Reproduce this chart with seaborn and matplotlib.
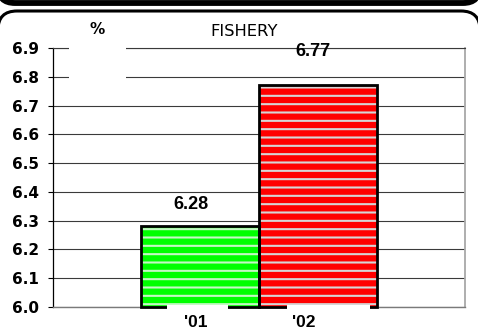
import matplotlib
matplotlib.use("Agg")
import matplotlib.pyplot as plt
from matplotlib.patches import PathPatch, Rectangle
from matplotlib.path import Path
import pandas as pd
import seaborn as sns

# ---- data -------------------------------------------------------------
years = ["'01", "'02"]
shares = [6.28, 6.77]
y_ticks = [6.0, 6.1, 6.2, 6.3, 6.4, 6.5, 6.6, 6.7, 6.8, 6.9]
y_tick_labels = ["6.0", "6.1", "6.2", "6.3", "6.4", "6.5", "6.6", "6.7", "6.8", "6.9"]
chart_title = "FISHERY"
unit_label = "%"

# ---- style --------------------------------------------------------------
fill_colors = ["#00ff00", "#ff0000"]
stripe_colors = ["#c6f7c6", "#d6d6d6"]
grid_color = "#3a3a3a"
W, H = 478, 333

sns.set_theme(style="white")
plt.rcParams["font.family"] = ["DejaVu Sans"]
plt.rcParams["hatch.linewidth"] = 1.5
for key in ["text.color", "axes.labelcolor", "xtick.color", "ytick.color"]:
    plt.rcParams[key] = "black"

fig = plt.figure(figsize=(W / 100, H / 100), dpi=100)
fig.patch.set_facecolor("white")


def px_box(x0, y0, x1, y1):
    """Figure-fraction rect from pixel edges measured from the top-left."""
    return [x0 / W, 1 - y1 / H, (x1 - x0) / W, (y1 - y0) / H]


def frame_edge(y, left_end, right_end, r):
    """Open path: a horizontal edge at pixel row y whose ends bend away
    (towards left_end / right_end rows) with rounded corners of radius r."""
    pts = [(-2, left_end), (-2, y), (-2 + r, y),
           (W + 2 - r, y), (W + 2, y), (W + 2, right_end)]
    codes = [Path.MOVETO, Path.CURVE3, Path.CURVE3,
             Path.LINETO, Path.CURVE3, Path.CURVE3]
    return Path([(x / W, 1 - yy / H) for x, yy in pts], codes)


ax = fig.add_axes(px_box(53, 48, 465, 307))

df = pd.DataFrame({"year": years, "share": shares})
sns.barplot(data=df, x="year", y="share", hue="year", palette=fill_colors,
            saturation=1, width=1.0, hatch="--", linewidth=0, legend=False,
            ax=ax, zorder=3)

# striped fills: the hatch takes the patch edge colour
bars = list(ax.patches)
for bar, sc in zip(bars, stripe_colors):
    bar.set_edgecolor(sc)
    bar.set_linewidth(0)

ax.set_ylim(y_ticks[0], y_ticks[-1])
ax.set_xlim(-1.25, 2.25)

# black outlines from the plotted bars, resting on the axis floor
for bar in bars:
    ax.add_patch(Rectangle((bar.get_x(), y_ticks[0]), bar.get_width(),
                           bar.get_height() - y_ticks[0], fill=False,
                           edgecolor="black", linewidth=2.0, zorder=4,
                           clip_on=False))

# value labels
label_offsets = [(-6.5, 15.5), (-3.5, 24.5)]
for bar, val, (dx, dy) in zip(bars, shares, label_offsets):
    ax.annotate(f"{val:.2f}", xy=(bar.get_x() + bar.get_width() / 2, val),
                xytext=(dx, dy), textcoords="offset points", ha="center",
                va="center", fontsize=13, fontweight="bold", color="black",
                family="Liberation Sans", annotation_clip=False, zorder=6)

# y axis
ax.set_yticks(y_ticks)
ax.set_yticklabels(y_tick_labels)
ax.yaxis.grid(True, color=grid_color, linewidth=0.8)
ax.set_axisbelow(True)
ax.tick_params(axis="y", left=True, length=3.6, width=0.8, color="black",
               pad=6.5, labelsize=11, labelcolor="black")
for lbl in ax.get_yticklabels():
    lbl.set_fontweight("bold")

# x axis: category labels drawn under each bar
ax.set_xticks([])
ax.set_xlabel("")
ax.set_ylabel("")
cat_offsets = [-3, -10]
for i, (name, dx) in enumerate(zip(years, cat_offsets)):
    ax.annotate(name, xy=(i, 0), xycoords=("data", "axes fraction"),
                xytext=(dx, -11), textcoords="offset points", ha="center",
                va="center", fontsize=12.5, fontweight="bold", color="black",
                family="Liberation Sans", annotation_clip=False)

for side, color, lw in [("left", "black", 0.9), ("bottom", "#7a7a7a", 1.0),
                        ("right", "#a8a8a8", 1.3), ("top", grid_color, 0.8)]:
    ax.spines[side].set_visible(True)
    ax.spines[side].set_color(color)
    ax.spines[side].set_linewidth(lw)

# white panels behind the unit label and the category labels
for box in [(69, 38, 126, 95), (167, 305, 228, 313), (287, 305, 370, 313)]:
    x, y, w, h = px_box(*box)
    fig.add_artist(Rectangle((x, y), w, h, transform=fig.transFigure,
                             facecolor="white", edgecolor="none", zorder=1))

fig.text(97 / W, 1 - 30 / H, unit_label, ha="center", va="center",
         fontsize=11, fontweight="bold", color="black", zorder=3)
fig.text(244 / W, 1 - 31 / H, chart_title, ha="center", va="center",
         fontsize=11.8, color="black", zorder=3)

# rounded frames: bottom edge of the header strip, top edge of the panel
fig.add_artist(PathPatch(frame_edge(3, -14, -14, 17),
                         transform=fig.transFigure, facecolor="none",
                         edgecolor="black", linewidth=4.2, zorder=2,
                         capstyle="butt"))
fig.add_artist(PathPatch(frame_edge(11, 30, 30, 19),
                         transform=fig.transFigure, facecolor="none",
                         edgecolor="black", linewidth=2.2, zorder=2,
                         capstyle="butt"))

fig.savefig("out.png", dpi=100)
